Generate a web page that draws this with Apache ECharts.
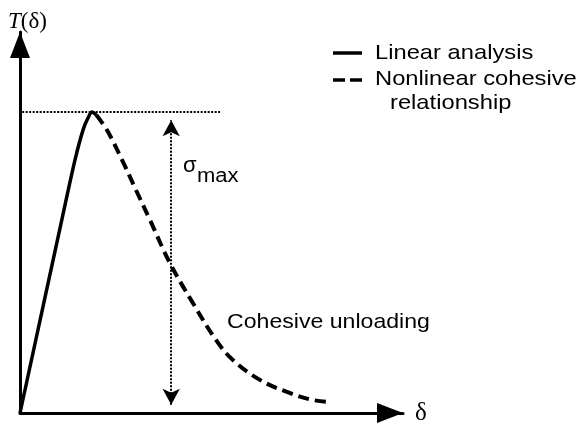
<!DOCTYPE html>
<html>
<head>
<meta charset="utf-8">
<script src="https://cdn.jsdelivr.net/npm/echarts@6/dist/echarts.min.js"></script>
<style>
  html, body { margin: 0; padding: 0; background: #fff; }
  #chart { width: 580px; height: 425px; }
</style>
</head>
<body>
<div id="chart"></div>
<script>
// delta in units of peak opening, traction in units of sigma_max
const linearPts = [[0, 0], [0.58, 0.641], [0.764, 0.841], [0.875, 0.94], [0.944, 0.98], [1.0, 1.0], [1.06, 0.99]];
const cohesivePts = [
  [1.06, 0.99], [1.208, 0.94], [1.417, 0.841], [1.611, 0.741], [1.806, 0.641], [2.083, 0.498],
  [2.403, 0.365], [2.722, 0.243], [2.958, 0.176], [3.333, 0.11], [3.708, 0.07], [4.028, 0.045],
  [4.278, 0.037]
];
const peakLine = [[0.03, 1], [2.8, 1]];
const sigmaArrowX = 2.1;
const xMax = 5.32;
const yMax = 1.266;

const legendNames = ['Linear analysis', 'Nonlinear cohesive', 'relationship'];

const chart = echarts.init(document.getElementById('chart'));

const sans = '"Liberation Sans", Arial, sans-serif';
const serif = '"Liberation Serif", "Times New Roman", serif';

const axisCommon = {
  type: 'value',
  min: 0,
  splitLine: { show: false },
  axisTick: { show: false },
  axisLabel: { show: false },
  axisLine: {
    show: true,
    lineStyle: { color: '#000', width: 3 },
    symbol: ['none', 'triangle'],
    symbolSize: [20, 26],
    symbolOffset: [0, -13]
  }
};

chart.setOption({
  animation: false,
  grid: { left: 20, top: 32, right: 177, bottom: 12 },
  xAxis: Object.assign({}, axisCommon, { max: xMax }),
  yAxis: Object.assign({}, axisCommon, { max: yMax }),
  series: [
    {
      name: 'Linear analysis',
      type: 'line',
      data: linearPts,
      smooth: 0.3,
      showSymbol: false,
      silent: true,
      lineStyle: { color: '#000', width: 3.5 }
    },
    {
      name: 'Nonlinear cohesive relationship',
      type: 'line',
      data: cohesivePts,
      smooth: 0.4,
      showSymbol: false,
      silent: true,
      lineStyle: { color: '#000', width: 4, type: [11, 6] },
      markLine: {
        silent: true,
        label: { show: false },
        data: [
          [
            { coord: peakLine[0], symbol: 'none' },
            { coord: peakLine[1], symbol: 'none' }
          ],
          [
            { coord: [sigmaArrowX, 0.027], symbol: 'arrow' },
            { coord: [sigmaArrowX, 0.973], symbol: 'arrow' }
          ]
        ],
        symbolSize: [13, 16],
        lineStyle: { color: '#000', width: 2, type: [2, 1.5] }
      }
    }
  ],
  graphic: [
    // y-axis title
    {
      type: 'text', x: 8, y: 22,
      style: {
        text: '{i|T}{n|(δ)}',
        rich: {
          i: { font: 'italic 23px ' + serif, fill: '#000' },
          n: { font: '23px ' + serif, fill: '#000' }
        },
        verticalAlign: 'middle'
      }
    },
    // x-axis title
    {
      type: 'text', x: 415, y: 413,
      style: { text: 'δ', font: '25px ' + serif, fill: '#000', verticalAlign: 'middle' }
    },
    // legend
    { type: 'line', shape: { x1: 333, y1: 53, x2: 362, y2: 53 }, style: { stroke: '#000', lineWidth: 3.5 } },
    { type: 'line', shape: { x1: 333, y1: 80, x2: 362, y2: 80 }, style: { stroke: '#000', lineWidth: 3.5, lineDash: [12, 5] } },
    {
      type: 'text', x: 375, y: 53, scaleX: 1.13,
      style: { text: legendNames[0], font: '21px ' + sans, fill: '#000', verticalAlign: 'middle' }
    },
    {
      type: 'text', x: 375, y: 79, scaleX: 1.13,
      style: { text: legendNames[1], font: '21px ' + sans, fill: '#000', verticalAlign: 'middle' }
    },
    {
      type: 'text', x: 390, y: 103, scaleX: 1.13,
      style: { text: legendNames[2], font: '21px ' + sans, fill: '#000', verticalAlign: 'middle' }
    },
    // sigma_max
    {
      type: 'text', x: 183, y: 166,
      style: { text: 'σ', font: '22px ' + sans, fill: '#000', verticalAlign: 'middle' }
    },
    {
      type: 'text', x: 197, y: 176, scaleX: 1.1,
      style: { text: 'max', font: '20px ' + sans, fill: '#000', verticalAlign: 'middle' }
    },
    // annotation
    {
      type: 'text', x: 227, y: 322, scaleX: 1.1,
      style: { text: 'Cohesive unloading', font: '21px ' + sans, fill: '#000', verticalAlign: 'middle' }
    }
  ]
});
</script>
</body>
</html>
